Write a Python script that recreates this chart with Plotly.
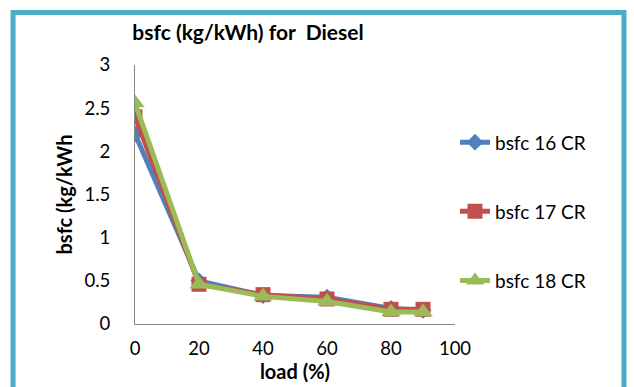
import plotly.graph_objects as go

# Engine load (%) and brake specific fuel consumption (kg/kWh) per compression ratio
load = [0, 20, 40, 60, 80, 90]
bsfc_16 = [2.20, 0.50, 0.33, 0.31, 0.18, 0.16]
bsfc_17 = [2.40, 0.46, 0.34, 0.29, 0.17, 0.17]
bsfc_18 = [2.56, 0.46, 0.32, 0.26, 0.14, 0.14]

series_names = ["bsfc 16 CR", "bsfc 17 CR", "bsfc 18 CR"]
series_colors = ["#4F81BD", "#C0504D", "#9BBB59"]
series_symbols = ["diamond", "square", "triangle-up"]
series_sizes = [13, 15, 17]

x_ticks = [0, 20, 40, 60, 80, 100]
y_ticks = [0, 0.5, 1, 1.5, 2, 2.5, 3]

FONT = "Lato, 'Open Sans', sans-serif"

fig = go.Figure()
for i, (name, vals) in enumerate(zip(series_names, [bsfc_16, bsfc_17, bsfc_18])):
    fig.add_trace(go.Scatter(
        x=load, y=vals, name=name, mode="lines+markers",
        legendgroup=f"g{i}",
        line=dict(color=series_colors[i], width=5),
        marker=dict(symbol=series_symbols[i], size=series_sizes[i],
                    color=series_colors[i]),
    ))

fig.update_layout(
    width=634, height=387,
    margin=dict(l=135, r=179, t=65, b=63),
    paper_bgcolor="white", plot_bgcolor="white",
    font=dict(family=FONT, size=18, color="#000000"),
    title=dict(text="<b>bsfc (kg/kWh) for  Diesel</b>",
               font=dict(size=21, family=FONT),
               x=0.353, xref="paper", xanchor="center",
               y=1 - 33 / 387, yanchor="middle"),
    showlegend=True,
    legend=dict(x=1.0, xanchor="left", y=0.775, yanchor="top",
                tracegroupgap=41.5, font=dict(size=19, family=FONT),
                bgcolor="rgba(0,0,0,0)"),
    xaxis=dict(range=[0, 100], tickvals=x_ticks, showgrid=False,
               zeroline=False, showline=True, linecolor="#868686",
               linewidth=1, ticks="outside", ticklen=8,
               tickcolor="rgba(0,0,0,0)", tickfont=dict(size=18.5),
               title=dict(text="<b>load (%)</b>", standoff=2,
                          font=dict(size=20, family=FONT))),
    yaxis=dict(range=[0, 3], tickvals=y_ticks, showgrid=False,
               zeroline=False, showline=True, linecolor="#868686",
               linewidth=1, ticks="outside", ticklen=20,
               tickcolor="rgba(0,0,0,0)", tickfont=dict(size=18.5),
               title=dict(text="<b>bsfc (kg/kWh</b>", standoff=6,
                          font=dict(size=20, family=FONT))),
)

# Teal frame around the chart area
fig.add_shape(type="rect", xref="paper", yref="paper",
              x0=-0.381, x1=1.528, y0=-0.29, y1=1.203,
              line=dict(color="#4BACC6", width=5), layer="below")

fig.write_html("out.html")
